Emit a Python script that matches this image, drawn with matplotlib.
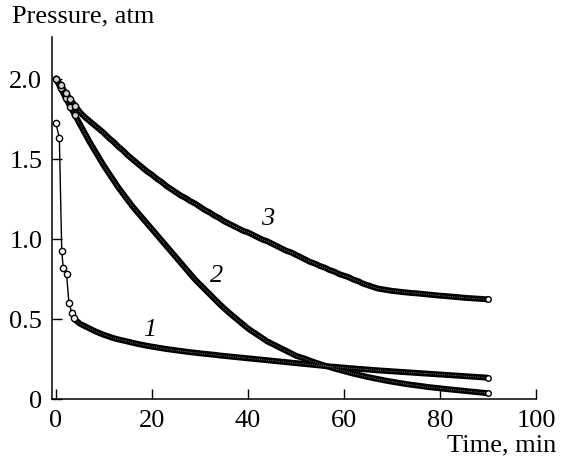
import matplotlib
matplotlib.use("Agg")
import matplotlib.pyplot as plt
import numpy as np

plt.rcParams.update({
    "font.family": ["Liberation Serif", "DejaVu Serif"],
    "font.size": 19,
})

# curve 1: sparse points at the start, then one reading per minute
t1 = [0, 0.7, 1.2, 1.5, 2.2, 2.7, 3.3, 3.75] + list(range(4, 91))
p1 = [1.72, 1.63, 0.925, 0.82, 0.78, 0.60, 0.54, 0.505,
      0.495, 0.47, 0.455, 0.44, 0.425, 0.412, 0.40, 0.39, 0.38, 0.372,
      0.365, 0.358, 0.351, 0.344, 0.338, 0.332, 0.327, 0.322, 0.317, 0.312,
      0.308, 0.304, 0.300, 0.296, 0.292, 0.289, 0.285, 0.282, 0.279, 0.276,
      0.272, 0.269, 0.266, 0.263, 0.26, 0.257, 0.254, 0.251, 0.248, 0.245,
      0.242, 0.239, 0.236, 0.233, 0.23, 0.227, 0.224, 0.221, 0.218, 0.215,
      0.212, 0.209, 0.206, 0.203, 0.201, 0.198, 0.196, 0.193, 0.191, 0.188,
      0.186, 0.184, 0.181, 0.179, 0.177, 0.175, 0.173, 0.171, 0.169, 0.167,
      0.165, 0.163, 0.161, 0.159, 0.157, 0.155, 0.153, 0.151, 0.149, 0.147,
      0.145, 0.143, 0.141, 0.139, 0.137, 0.135, 0.133]

# curves 2 and 3: one reading per minute, 0..90
t23 = list(range(0, 91))
p2 = [2.00, 1.94, 1.88, 1.825, 1.77, 1.715, 1.66, 1.605, 1.555, 1.505,
      1.455, 1.41, 1.365, 1.32, 1.28, 1.24, 1.20, 1.165, 1.13, 1.095,
      1.06, 1.025, 0.99, 0.955, 0.92, 0.885, 0.85, 0.815, 0.78, 0.745,
      0.715, 0.685, 0.655, 0.625, 0.595, 0.567, 0.54, 0.515, 0.49, 0.465,
      0.44, 0.42, 0.40, 0.38, 0.36, 0.345, 0.33, 0.315, 0.30, 0.285,
      0.27, 0.26, 0.25, 0.238, 0.228, 0.218, 0.208, 0.20, 0.19, 0.182,
      0.174, 0.166, 0.158, 0.151, 0.144, 0.137, 0.131, 0.125, 0.119, 0.113,
      0.108, 0.103, 0.098, 0.093, 0.089, 0.085, 0.081, 0.077, 0.073, 0.070,
      0.067, 0.063, 0.060, 0.057, 0.054, 0.051, 0.048, 0.045, 0.042, 0.039,
      0.036]
p3 = [2.00, 1.96, 1.91, 1.87, 1.83, 1.79, 1.76, 1.735, 1.71, 1.685,
      1.66, 1.63, 1.605, 1.575, 1.55, 1.52, 1.495, 1.47, 1.445, 1.42,
      1.40, 1.375, 1.355, 1.33, 1.31, 1.29, 1.27, 1.255, 1.235, 1.22,
      1.20, 1.18, 1.165, 1.145, 1.13, 1.11, 1.095, 1.08, 1.065, 1.05,
      1.04, 1.025, 1.01, 0.995, 0.985, 0.97, 0.955, 0.94, 0.925, 0.915,
      0.90, 0.885, 0.87, 0.855, 0.845, 0.83, 0.82, 0.805, 0.795, 0.78,
      0.77, 0.76, 0.745, 0.735, 0.72, 0.71, 0.70, 0.69, 0.685, 0.68,
      0.675, 0.672, 0.668, 0.665, 0.662, 0.66, 0.657, 0.654, 0.651, 0.648,
      0.645, 0.643, 0.64, 0.638, 0.635, 0.632, 0.63, 0.628, 0.626, 0.624,
      0.622]

curve_labels = ["1", "2", "3"]
label_pos = [(19.6, 0.44), (33.5, 0.775), (44.2, 1.13)]

x_ticks = [0, 20, 40, 60, 80, 100]
y_ticks = [0, 0.5, 1.0, 1.5, 2.0]
y_tick_labels = ["0", "0.5", "1.0", "1.5", "2.0"]

fig = plt.figure(figsize=(5.62, 4.64), dpi=100)
ax = fig.add_axes([52 / 562, 1 - 400 / 464, 484 / 562, 362 / 464])

# first points of curve 1 are spread out: thin line with open circles
n_sparse = 8
ax.plot(t1[:n_sparse + 1], p1[:n_sparse + 1], "-", color="k", lw=1, zorder=2)
ax.plot(t1[:n_sparse], p1[:n_sparse], "o", ms=4.5, mfc="white", mec="k",
        mew=1, zorder=3)

# dense parts: the packed circles read as a thick dark band
for t, p in [(t1[n_sparse - 1:], p1[n_sparse - 1:]), (t23, p2), (t23, p3)]:
    ax.plot(t, p, "-", color="k", lw=4.3, solid_capstyle="round", zorder=2)
    ax.plot(t, p, ":", color="#9a9a9a", lw=0.6, zorder=3)
    ax.plot(t[-1], p[-1], "o", ms=4, mfc="white", mec="k", mew=1, zorder=4)

for t, p in [(t23[:5], p2[:5]), (t23[:5], p3[:5])]:
    ax.plot(t, p, "o", ms=4.5, mfc="#cfcfcf", mec="k", mew=1, zorder=4)

for txt, (x, y) in zip(curve_labels, label_pos):
    ax.text(x, y, txt, fontstyle="italic", fontsize=19, ha="center", va="center")

ax.set_xlim(-0.83, 100)
ax.set_ylim(0, 2.26)
ax.set_xticks(x_ticks)
ax.set_yticks(y_ticks)
ax.set_yticklabels(y_tick_labels)
ax.tick_params(direction="in", length=7, width=1, pad=7, labelsize=19)
ax.spines["top"].set_visible(False)
ax.spines["right"].set_visible(False)
for s in ["left", "bottom"]:
    ax.spines[s].set_linewidth(1.1)

fig.text(12 / 562, 1 - 16 / 464, "Pressure, atm", ha="left", va="center", fontsize=19)
fig.text(556 / 562, 1 - 445 / 464, "Time, min", ha="right", va="center", fontsize=19)

fig.savefig("out.png", dpi=100)
